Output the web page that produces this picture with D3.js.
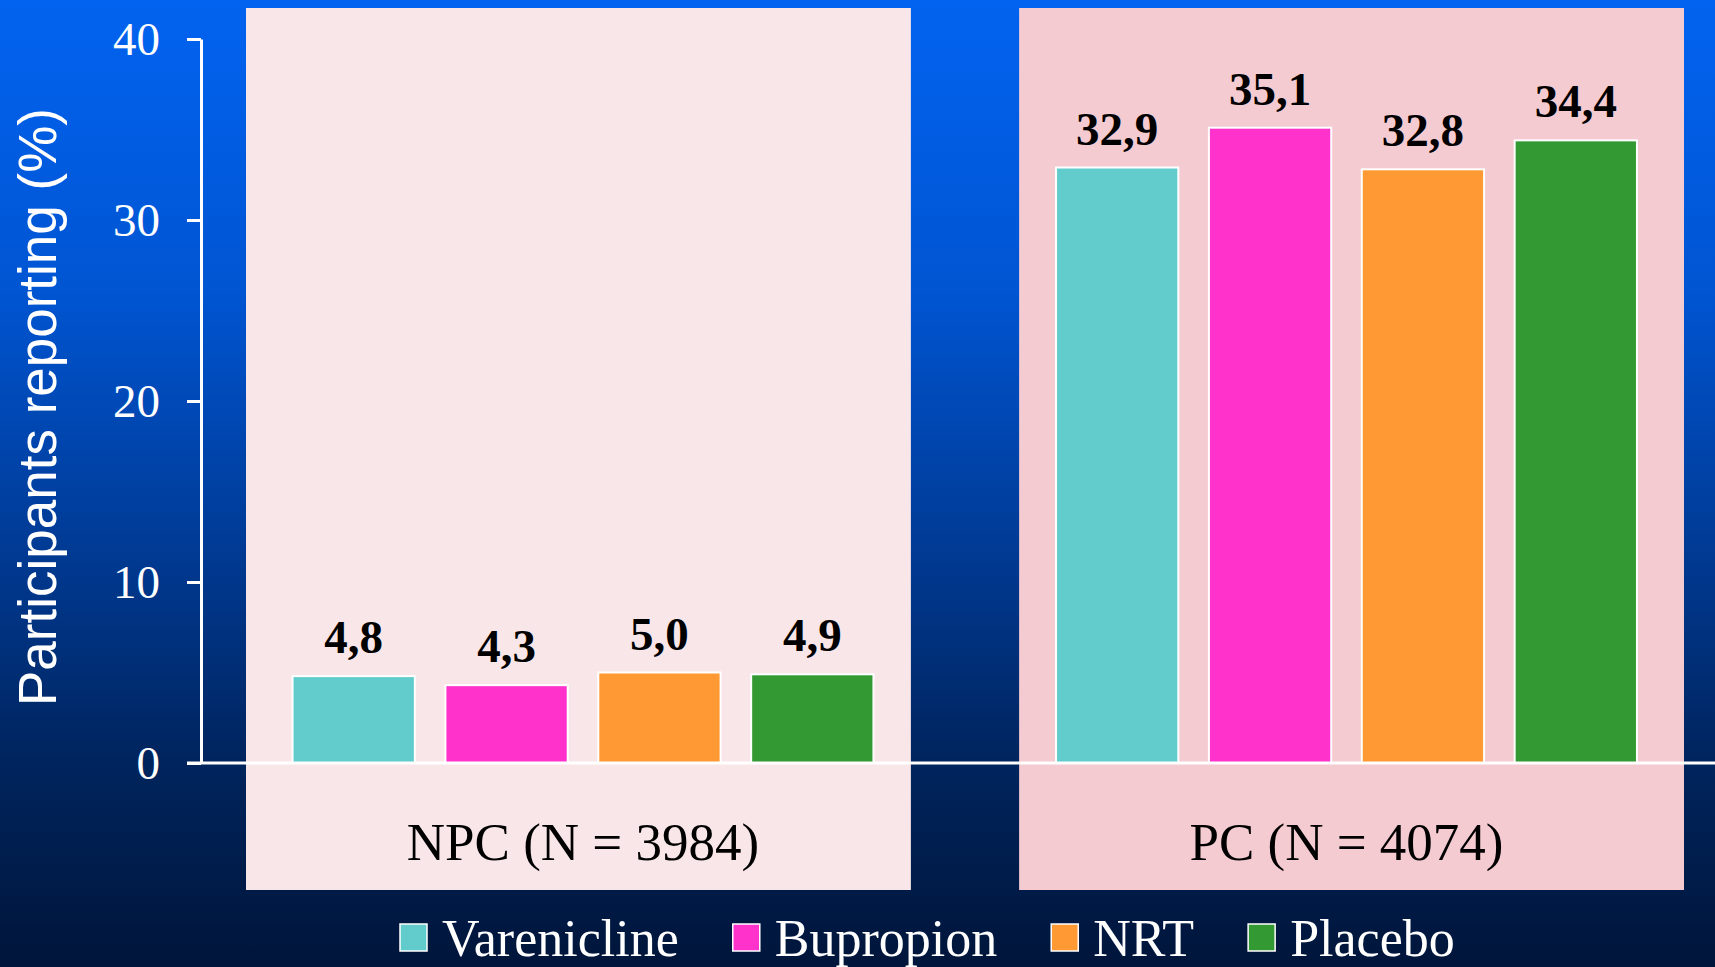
<!DOCTYPE html>
<html>
<head>
<meta charset="utf-8">
<script src="https://cdn.jsdelivr.net/npm/d3@7"></script>
<style>
  html, body { margin: 0; padding: 0; background: #001538; }
  svg { display: block; }
</style>
</head>
<body>
<svg id="chart" width="1715" height="967"></svg>
<script>
// Data
const groups = ["NPC", "PC"];
const groupLabels = ["NPC (N = 3984)", "PC (N = 4074)"];
const treatments = ["Varenicline", "Bupropion", "NRT", "Placebo"];
const npcValues = [4.8, 4.3, 5.0, 4.9];
const pcValues = [32.9, 35.1, 32.8, 34.4];
const yTicks = [0, 10, 20, 30, 40];

const colors = ["#62cbcb", "#ff33cc", "#ff9933", "#339933"];
const panelColors = ["#f9e6e8", "#f5cbd2"];

const W = 1715, H = 967;
const serif = "'Liberation Serif', 'Times New Roman', serif";
const sans = "'Liberation Sans', Arial, sans-serif";

const svg = d3.select("#chart");

// Background gradient
const defs = svg.append("defs");
const grad = defs.append("linearGradient")
  .attr("id", "bg").attr("x1", 0).attr("y1", 0).attr("x2", 0).attr("y2", 1);
[[0, "#0263f0"], [0.3, "#0055d2"], [0.55, "#003c98"], [0.78, "#00255f"], [1, "#00153a"]]
  .forEach(([o, c]) => grad.append("stop").attr("offset", o).attr("stop-color", c));
svg.append("rect").attr("width", W).attr("height", H).attr("fill", "url(#bg)");

// Scales
const y = d3.scaleLinear().domain([0, 40]).range([763, 39]);

const panelX = d3.scaleBand().domain(groups).range([246, 1684]).paddingInner(0.14).paddingOuter(0);
const groupX = d3.scaleBand().domain(groups).range([250.5, 1679]).paddingInner(0.129).paddingOuter(0);
const barX = d3.scaleBand().domain(treatments).range([0, groupX.bandwidth()])
  .paddingInner(0.2).paddingOuter(0.275);

const series = groups.map((g, i) => ({
  group: g,
  label: groupLabels[i],
  values: (i === 0 ? npcValues : pcValues).map((v, j) => ({ name: treatments[j], value: v, color: colors[j] }))
}));

// Group panels
svg.append("g").selectAll("rect")
  .data(series)
  .join("rect")
  .attr("x", d => panelX(d.group))
  .attr("y", 8)
  .attr("width", panelX.bandwidth())
  .attr("height", 890 - 8)
  .attr("fill", (d, i) => panelColors[i]);

// Bars and value labels
const gGroups = svg.append("g").selectAll("g")
  .data(series)
  .join("g")
  .attr("transform", d => `translate(${groupX(d.group)},0)`);

gGroups.selectAll("rect")
  .data(d => d.values)
  .join("rect")
  .attr("x", d => barX(d.name))
  .attr("y", d => y(d.value))
  .attr("width", barX.bandwidth())
  .attr("height", d => y(0) - y(d.value))
  .attr("fill", d => d.color)
  .attr("stroke", "#ffffff")
  .attr("stroke-width", 2);

gGroups.selectAll("text.value")
  .data(d => d.values)
  .join("text")
  .attr("class", "value")
  .attr("x", d => barX(d.name) + barX.bandwidth() / 2)
  .attr("y", d => y(d.value) - 23)
  .attr("text-anchor", "middle")
  .attr("font-family", serif)
  .attr("font-weight", "bold")
  .attr("font-size", 47)
  .attr("fill", "#000")
  .text(d => d.value.toFixed(1).replace(".", ","));

// Group labels
gGroups.append("text")
  .attr("x", groupX.bandwidth() / 2)
  .attr("y", 860)
  .attr("text-anchor", "middle")
  .attr("font-family", serif)
  .attr("font-size", 53)
  .attr("fill", "#000")
  .text(d => d.label);

// Baseline across the chart
svg.append("line")
  .attr("x1", 187).attr("x2", W)
  .attr("y1", y(0)).attr("y2", y(0))
  .attr("stroke", "#fff").attr("stroke-width", 3);

// Y axis
const axis = svg.append("g")
  .attr("transform", "translate(201,0)")
  .call(d3.axisLeft(y).tickValues(yTicks).tickSize(14).tickSizeOuter(0).tickPadding(27).tickFormat(d3.format("d")));
axis.select(".domain").attr("stroke", "#fff").attr("stroke-width", 3);
axis.selectAll(".tick line").attr("stroke", "#fff").attr("stroke-width", 3);
axis.selectAll(".tick text")
  .attr("fill", "#fff")
  .attr("font-family", serif)
  .attr("font-size", 47)
  .attr("dy", "0.34em");

// Y axis title
svg.append("text")
  .attr("transform", "translate(56,407) rotate(-90)")
  .attr("text-anchor", "middle")
  .attr("font-family", sans)
  .attr("font-size", 53)
  .attr("fill", "#fff")
  .text("Participants reporting (%)");

// Legend
const legend = svg.append("g");
let lx = 400;
treatments.forEach((t, i) => {
  legend.append("rect")
    .attr("x", lx).attr("y", 924)
    .attr("width", 27).attr("height", 27)
    .attr("fill", colors[i])
    .attr("stroke", "#fff").attr("stroke-width", 1.5);
  const txt = legend.append("text")
    .attr("x", lx + 42).attr("y", 956)
    .attr("font-family", serif)
    .attr("font-size", 52)
    .attr("fill", "#fff")
    .text(t);
  lx += 42 + txt.node().getComputedTextLength() + 54;
});
</script>
</body>
</html>
